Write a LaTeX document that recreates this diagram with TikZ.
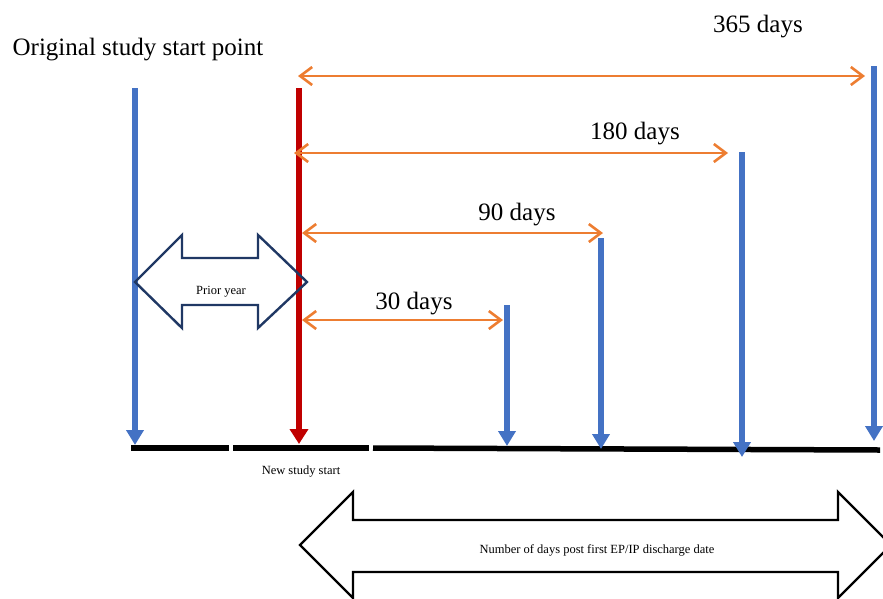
\documentclass[tikz,border=0pt]{standalone}
\usepackage{fontspec}
\setmainfont{Liberation Serif}
\usetikzlibrary{arrows.meta}
\definecolor{dayblue}{HTML}{4472C4}
\definecolor{startred}{HTML}{C00000}
\definecolor{spanorange}{HTML}{ED7D31}
\definecolor{blocknavy}{HTML}{203864}
\begin{document}
\begin{tikzpicture}[x=1pt,y=-1pt,
  daymark/.style={dayblue,line width=5.5pt,-{Triangle[length=15pt,width=17pt]}},
  period/.style={spanorange,line width=2.6pt,
    {Straight Barb[length=12pt,width=18pt]}-{Straight Barb[length=12pt,width=18pt]}},
  big/.style={font=\fontsize{25}{30}\selectfont},
  small/.style={font=\fontsize{12.5}{15}\selectfont}]
\useasboundingbox (0,0) rectangle (883,598);
\clip (0,0) rectangle (883,598);
%\draw (0,0) to[grid with coordinates] (883,598);

% time line
\coordinate (line-a) at (131,448);
\coordinate (line-b) at (229,448);
\coordinate (line-c) at (233,448);
\coordinate (line-d) at (369,448);
\coordinate (line-e) at (373,448);
\coordinate (line-f) at (880,450);
\draw[line width=5.5pt] (line-a) to (line-b);
\draw[line width=5.5pt] (line-c) to (line-d);
\draw[line width=5.5pt] (line-e) to (line-f);

% start points and day marks
\coordinate (orig-top)  at (135,88);  \coordinate (orig-end)  at (135,445);
\coordinate (new-top)   at (299,88);  \coordinate (new-end)   at (299,444);
\coordinate (d30-top)   at (507,305); \coordinate (d30-end)   at (507,446);
\coordinate (d90-top)   at (601,238); \coordinate (d90-end)   at (601,449);
\coordinate (d180-top)  at (742,152); \coordinate (d180-end)  at (742,457);
\coordinate (d365-top)  at (874,66);  \coordinate (d365-end)  at (874,441);

\draw[daymark] (orig-top) to (orig-end);
\draw[startred,line width=6.5pt,-{Triangle[length=15pt,width=18pt]}] (new-top) to (new-end);
\draw[daymark] (d30-top)  to (d30-end);
\draw[daymark] (d90-top)  to (d90-end);
\draw[daymark] (d180-top) to (d180-end);
\draw[daymark] (d365-top) to (d365-end);

% day spans
\coordinate (s365-a) at (298,76);  \coordinate (s365-b) at (865,76);
\coordinate (s180-a) at (294,153); \coordinate (s180-b) at (728,153);
\coordinate (s90-a)  at (302,233); \coordinate (s90-b)  at (603,233);
\coordinate (s30-a)  at (302,320); \coordinate (s30-b)  at (503,320);
\draw[period] (s365-a) to (s365-b);
\draw[period] (s180-a) to (s180-b);
\draw[period] (s90-a)  to (s90-b);
\draw[period] (s30-a)  to (s30-b);

\node[big](lbl-365)  at (758,27)  {365 days};
\node[big](lbl-180)  at (635,134) {180 days};
\node[big](lbl-90)   at (517,215) {90 days};
\node[big](lbl-30)   at (414,304) {30 days};
\node[big](lbl-orig) at (138,50)  {Original study start point};
\node[small](lbl-new) at (301,472) {New study start};

% block arrows
\draw[blocknavy,line width=2.4pt,line join=miter]
  (135,282) -- (182,235) -- (182,258) -- (258,258) -- (258,235) -- (307,282)
  -- (258,328) -- (258,305) -- (182,305) -- (182,328) -- cycle;
\node[small](lbl-prior) at (221,292) {Prior year};
\draw[line width=2.4pt,line join=miter]
  (300,545) -- (353,492) -- (353,520) -- (838,520) -- (838,492) -- (891,545)
  -- (838,598) -- (838,572) -- (353,572) -- (353,598) -- cycle;
\node[small](lbl-post) at (597,550) {Number of days post first EP/IP discharge date};
\end{tikzpicture}
\end{document}
